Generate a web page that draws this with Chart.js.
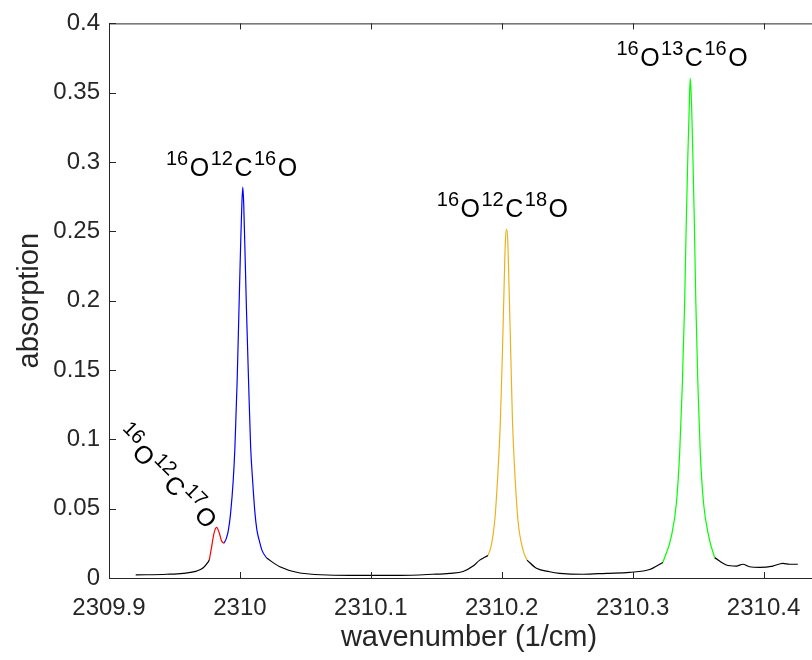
<!DOCTYPE html>
<html>
<head>
<meta charset="utf-8">
<script src="https://cdn.jsdelivr.net/npm/chart.js@4"></script>
<style>
  html, body { margin: 0; padding: 0; background: #fff; overflow: hidden; }
  /* plot box runs past the right edge of the window, as in the reference */
  #wrap { width: 840px; height: 660px; position: relative; }
</style>
</head>
<body>
<div id="wrap"><canvas id="chart"></canvas></div>
<script>
"use strict";

const FONT = '"Liberation Sans", Arial, Helvetica, sans-serif';
const AXIS_COLOR = "#262626";

/* ─── Spectrum, one piece per colour ───────────────────────────────────── */

const baseLeftX  = [2309.9204, 2309.9440, 2309.9567, 2309.9669, 2309.9720, 2309.9758, 2309.9766];
const baseLeftY  = [0.0022, 0.0027, 0.0034, 0.0050, 0.0074, 0.0117, 0.0129];

const peak17X = [2309.9766, 2309.9784, 2309.9802, 2309.9822, 2309.9842, 2309.9860, 2309.9878];
const peak17Y = [0.0129, 0.0225, 0.0322, 0.0365, 0.0326, 0.0266, 0.0250];

const peak16X = [2309.9878, 2309.9897, 2309.9912, 2309.9929, 2309.9949, 2309.9962, 2309.9979,
                 2309.9992, 2310.0005, 2310.0015, 2310.0022, 2310.0029, 2310.0038, 2310.0051,
                 2310.0066, 2310.0082, 2310.0097, 2310.0115, 2310.0130, 2310.0147, 2310.0168,
                 2310.0204];
const peak16Y = [0.0250, 0.0288, 0.0345, 0.0468, 0.0705, 0.0945, 0.1424,
                 0.1906, 0.2383, 0.2700, 0.2820, 0.2700, 0.2383, 0.1906,
                 0.1424, 0.0945, 0.0705, 0.0468, 0.0345, 0.0273, 0.0201,
                 0.0144];

const baseMidX = [2310.0204, 2310.0305, 2310.0458, 2310.0840, 2310.1221, 2310.1473,
                  2310.1603, 2310.1705, 2310.1781, 2310.1832, 2310.1870, 2310.1895];
const baseMidY = [0.0144, 0.0081, 0.0036, 0.0019, 0.0019, 0.0027,
                  0.0034, 0.0047, 0.0086, 0.0129, 0.0149, 0.0162];

const peak18X = [2310.1895, 2310.1921, 2310.1947, 2310.1972, 2310.1990, 2310.2005,
                 2310.2018, 2310.2028, 2310.2037, 2310.2046, 2310.2056, 2310.2069,
                 2310.2082, 2310.2099, 2310.2124, 2310.2163, 2310.2193];
const peak18Y = [0.0162, 0.0237, 0.0417, 0.0777, 0.1137, 0.1617,
                 0.2096, 0.2432, 0.2516, 0.2432, 0.2096, 0.1617,
                 0.1137, 0.0777, 0.0417, 0.0201, 0.0129];

const baseGapX = [2310.2193, 2310.2265, 2310.2366, 2310.2443, 2310.2621,
                  2310.2799, 2310.2977, 2310.3130, 2310.3231];
const baseGapY = [0.0129, 0.0070, 0.0045, 0.0034, 0.0027,
                  0.0034, 0.0041, 0.0061, 0.0112];

const peak13X = [2310.3231, 2310.3295, 2310.3334, 2310.3359, 2310.3379, 2310.3397,
                 2310.3410, 2310.3422, 2310.3433, 2310.3440, 2310.3450, 2310.3460,
                 2310.3471, 2310.3483, 2310.3499, 2310.3517, 2310.3542, 2310.3582,
                 2310.3626];
const peak13Y = [0.0112, 0.0297, 0.0537, 0.0897, 0.1376, 0.1976,
                 0.2576, 0.3055, 0.3415, 0.3606, 0.3415, 0.3055,
                 0.2576, 0.1976, 0.1376, 0.0897, 0.0537, 0.0297,
                 0.0147];

const baseRightX = [2310.3626, 2310.3715, 2310.3792, 2310.3842, 2310.3893,
                    2310.3970, 2310.4071, 2310.4147, 2310.4199, 2310.4262];
const baseRightY = [0.0147, 0.0094, 0.0086, 0.0099, 0.0081,
                    0.0077, 0.0086, 0.0106, 0.0099, 0.0099];

/* ─── Axes ─────────────────────────────────────────────────────────────── */

const xTicks = [2309.9, 2310.0, 2310.1, 2310.2, 2310.3, 2310.4];
const xTickLabels = ["2309.9", "2310", "2310.1", "2310.2", "2310.3", "2310.4"];
const yTicks = [0, 0.05, 0.1, 0.15, 0.2, 0.25, 0.3, 0.35, 0.4];
const yTickLabels = ["0", "0.05", "0.1", "0.15", "0.2", "0.25", "0.3", "0.35", "0.4"];

/* ─── Isotopologue labels (mass numbers of O, C, O) ─────────────────────── */

const ELEMENTS = ["O", "C", "O"];
const labelMasses = [[16, 12, 16], [16, 12, 18], [16, 13, 16], [16, 12, 17]];
const labelX = [2309.9435, 2310.1504, 2310.2876, 2309.9038];
const labelY = [0.2896, 0.2601, 0.3694, 0.1016];
const labelAngle = [0, 0, 0, 45];

/** Pair two value arrays into {x, y} points. */
function points(xs, ys) {
  return xs.map((x, i) => ({ x, y: ys[i] }));
}

function segment(xs, ys, color) {
  return {
    data: points(xs, ys),
    borderColor: color,
    borderWidth: 1.2,
    pointRadius: 0,
    cubicInterpolationMode: "monotone",
    fill: false,
  };
}

// inward tick marks on bottom/top/left plus the top edge of the box
const boxTicks = {
  id: "boxTicks",
  afterDraw(chart) {
    const { ctx, chartArea: a, scales: { x, y } } = chart;
    ctx.save();
    ctx.strokeStyle = AXIS_COLOR;
    ctx.lineWidth = 1;
    ctx.beginPath();
    ctx.moveTo(a.left, a.top + 0.5);
    ctx.lineTo(a.right, a.top + 0.5);
    x.ticks.forEach(t => {
      const px = Math.round(x.getPixelForValue(t.value)) + 0.5;
      ctx.moveTo(px, a.bottom);
      ctx.lineTo(px, a.bottom - 6);
      ctx.moveTo(px, a.top);
      ctx.lineTo(px, a.top + 6);
    });
    y.ticks.forEach(t => {
      const py = Math.round(y.getPixelForValue(t.value)) + 0.5;
      ctx.moveTo(a.left, py);
      ctx.lineTo(a.left + 7, py);
    });
    ctx.stroke();
    ctx.restore();
  },
};

// ^{16}O^{12}C^{16}O style text at data positions
const isotopeLabels = {
  id: "isotopeLabels",
  afterDatasetsDraw(chart) {
    const { ctx, scales: { x, y } } = chart;
    labelMasses.forEach((masses, i) => {
      ctx.save();
      ctx.translate(x.getPixelForValue(labelX[i]), y.getPixelForValue(labelY[i]));
      ctx.rotate(labelAngle[i] * Math.PI / 180);
      ctx.fillStyle = "#000";
      ctx.textBaseline = "alphabetic";
      ctx.textAlign = "left";
      let cx = 0;
      masses.forEach((m, j) => {
        ctx.font = `20px ${FONT}`;
        ctx.fillText(String(m), cx, -11);
        cx += ctx.measureText(String(m)).width + 1.5;
        ctx.font = `25px ${FONT}`;
        ctx.fillText(ELEMENTS[j], cx, 0);
        cx += ctx.measureText(ELEMENTS[j]).width + 1.5;
      });
      ctx.restore();
    });
  },
};

new Chart(document.getElementById("chart"), {
  type: "line",
  data: {
    datasets: [
      segment(baseLeftX, baseLeftY, "#000000"),
      segment(peak17X, peak17Y, "#ff0000"),
      segment(peak16X, peak16Y, "#0000ff"),
      segment(baseMidX, baseMidY, "#000000"),
      segment(peak18X, peak18Y, "#edb120"),
      segment(baseGapX, baseGapY, "#000000"),
      segment(peak13X, peak13Y, "#00ff00"),
      segment(baseRightX, baseRightY, "#000000"),
    ],
  },
  options: {
    responsive: true,
    maintainAspectRatio: false,
    animation: false,
    devicePixelRatio: 1,
    layout: { padding: { left: 0, top: 22, right: 11, bottom: 0 } },
    plugins: {
      legend: { display: false },
      tooltip: { enabled: false },
    },
    scales: {
      x: {
        type: "linear",
        min: 2309.9,
        max: 2310.45,
        afterBuildTicks: s => { s.ticks = xTicks.map(v => ({ value: v })); },
        afterFit: s => { s.height = 82; },
        grid: { display: false, drawTicks: false },
        border: { display: true, color: AXIS_COLOR, width: 1 },
        ticks: {
          autoSkip: false,
          maxRotation: 0,
          padding: 16,
          color: AXIS_COLOR,
          font: { family: FONT, size: 24 },
          callback: (v, i) => xTickLabels[i],
        },
        title: {
          display: true,
          text: "wavenumber (1/cm)",
          color: AXIS_COLOR,
          font: { family: FONT, size: 29 },
          padding: { top: 0, bottom: 5 },
        },
      },
      y: {
        type: "linear",
        min: 0,
        max: 0.4,
        afterBuildTicks: s => { s.ticks = yTicks.map(v => ({ value: v })); },
        afterFit: s => { s.width = 109; },
        grid: { display: false, drawTicks: false },
        border: { display: true, color: AXIS_COLOR, width: 1 },
        ticks: {
          autoSkip: false,
          padding: 9,
          color: AXIS_COLOR,
          font: { family: FONT, size: 24 },
          callback: (v, i) => yTickLabels[i],
        },
        title: {
          display: true,
          text: "absorption",
          color: AXIS_COLOR,
          font: { family: FONT, size: 29 },
          padding: { top: 13, bottom: 0 },
        },
      },
    },
  },
  plugins: [boxTicks, isotopeLabels],
});
</script>
</body>
</html>
